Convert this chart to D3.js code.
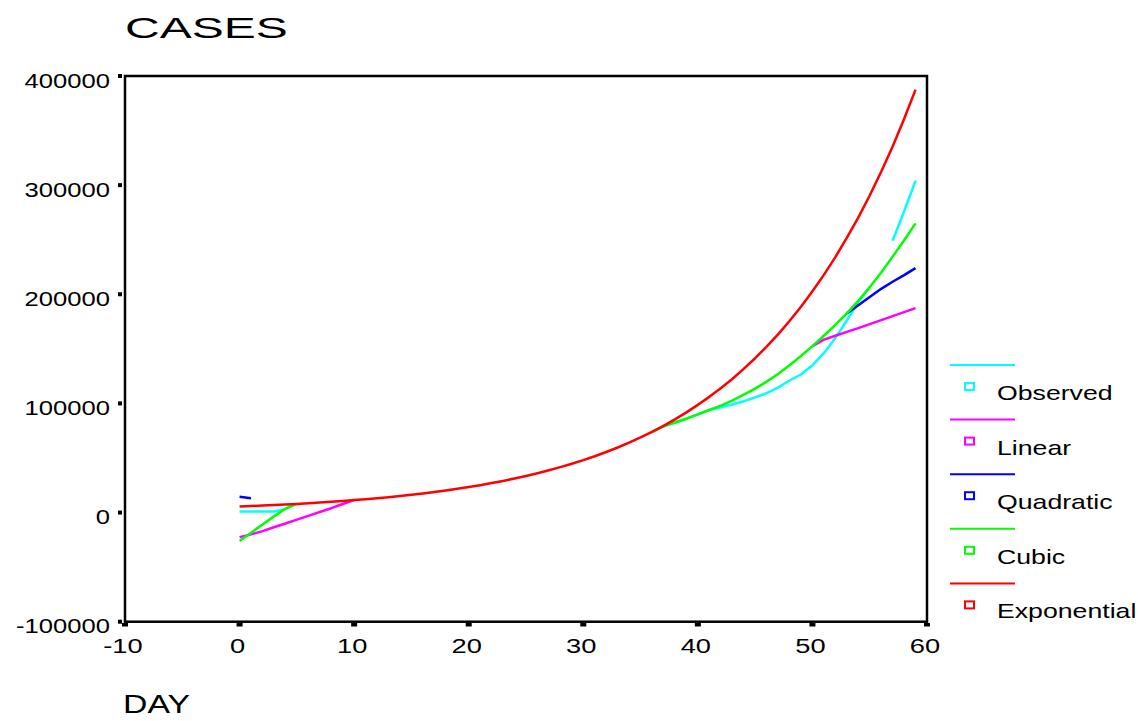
<!DOCTYPE html>
<html>
<head>
<meta charset="utf-8">
<script src="https://cdn.jsdelivr.net/npm/d3@7"></script>
<style>
  html, body { margin: 0; padding: 0; background: #ffffff; }
  svg { display: block; }
  text { font-family: "Liberation Sans", Arial, sans-serif; fill: #000; }
</style>
</head>
<body>
<svg id="chart" width="1138" height="721"></svg>
<script>
// ---------- data ----------
const days = [0,1,2,3,4,5,6,7,8,9,10,11,12,13,14,15,16,17,18,19,
              20,21,22,23,24,25,26,27,28,29,30,31,32,33,34,35,36,37,38,39,
              40,41,42,43,44,45,46,47,48,49,50,51,52,53,54,55,56,57,58,59];

const observed = [
  1000,1000,1000,1000,3000,null,null,null,null,null,
  null,null,null,null,null,null,null,null,null,null,
  null,null,null,null,null,null,null,null,null,null,
  null,null,null,null,null,null,null,79000,82500,86000,
  90000,94000,96500,99000,102000,105500,109500,114500,121000,126500,
  135000,146000,160000,176000,193000,206500,null,249000,276000,304000];

const linear = [
  -22500,-20000,-17000,-13500,-10000,-6500,-3000,500,4000,7800,
  11400,null,null,null,null,null,null,null,null,null,
  null,null,null,null,null,null,null,null,null,null,
  null,null,null,null,null,null,null,null,null,null,
  null,null,null,null,null,null,null,null,null,null,
  152500,158500,162000,165500,169000,172700,176300,180000,183600,187300];

const quadratic = [
  14500,13200,null,null,null,null,null,null,null,null,
  null,null,null,null,null,null,null,null,null,null,
  null,null,null,null,null,null,null,null,null,null,
  null,null,null,null,null,null,null,null,null,null,
  null,null,null,null,null,null,null,null,null,null,
  null,null,null,182500,190000,197500,205000,211500,217500,224000];

const cubic = [
  -26000,-18500,-11000,-3500,3500,8200,null,null,null,null,
  null,null,null,null,null,null,null,null,null,null,
  null,null,null,null,null,null,null,null,null,null,
  null,null,null,null,null,null,74000,79000,82500,86000,
  90000,94000,98000,102500,108000,113500,120000,127000,135000,143500,
  152500,162000,172000,182500,194000,206500,220000,234500,249500,265000];

const exponential = [
  5500,5950,6400,6900,7400,7900,8500,9200,9900,10600,
  11400,12200,13100,14100,15200,16300,17500,18800,20200,21800,
  23400,25100,27000,29000,31200,33500,36000,38700,41600,44700,
  48000,51600,55500,59600,64000,68800,74000,79500,85400,91800,
  98700,106000,113900,122400,131600,141400,152000,163300,175500,188600,
  202700,217800,234100,251600,270300,290500,312200,335500,360600,387500];

const seriesNames = ["Observed", "Linear", "Quadratic", "Cubic", "Exponential"];
const seriesValues = [observed, linear, quadratic, cubic, exponential];
const seriesColors = ["#00ffff", "#ff00ff", "#0000ff", "#00ff00", "#ff0000"];

const xTickValues = [-10, 0, 10, 20, 30, 40, 50, 60];
const yTickValues = [-100000, 0, 100000, 200000, 300000, 400000];

const titleText = "CASES";
const xAxisTitle = "DAY";

// ---------- layout ----------
const svg = d3.select("#chart");
const frame = { left: 125, right: 927, top: 76, bottom: 621.7 };

const x = d3.scaleLinear().domain([-10, 60]).range([frame.left, frame.right]);
const y = d3.scaleLinear().domain([-100000, 400000]).range([frame.bottom, frame.top]);

const fmt = v => String(v); // plain hyphen-minus as in the reference

function stretchedText(parent, tx, ty, str, size, sx, anchor) {
  const g = parent.append("g").attr("transform", `translate(${tx},${ty}) scale(${sx},1)`);
  g.append("text")
    .attr("x", 0).attr("y", 0)
    .attr("font-size", size)
    .attr("text-anchor", anchor || "start")
    .text(str);
  return g;
}

// title
stretchedText(svg, 125, 38, titleText, 30, 1.6, "start");

// lines
const plot = svg.append("g");
seriesValues.forEach((vals, i) => {
  const pts = days.map((d, j) => ({ d: d, v: vals[j] }));
  const line = d3.line()
    .defined(p => p.v !== null)
    .x(p => x(p.d))
    .y(p => y(p.v));
  plot.append("path")
    .datum(pts)
    .attr("fill", "none")
    .attr("stroke", seriesColors[i])
    .attr("stroke-width", 2.5)
    .attr("stroke-linejoin", "round")
    .attr("d", line);
});

// frame
svg.append("rect")
  .attr("x", frame.left).attr("y", frame.top)
  .attr("width", frame.right - frame.left)
  .attr("height", frame.bottom - frame.top)
  .attr("fill", "none")
  .attr("stroke", "#000")
  .attr("stroke-width", 2.5);

// y ticks (small squares left of axis) + labels
const yAxisG = svg.append("g");
yTickValues.forEach(v => {
  yAxisG.append("rect")
    .attr("x", frame.left - 7).attr("y", y(v) - 2)
    .attr("width", 4).attr("height", 4)
    .attr("fill", "#000");
  stretchedText(yAxisG, 110, y(v) + 11.5, fmt(v), 20, 1.28, "end");
});

// x ticks (small rects below axis) + labels
const xAxisG = svg.append("g");
xTickValues.forEach(v => {
  xAxisG.append("rect")
    .attr("x", x(v) - 3).attr("y", frame.bottom + 1.3)
    .attr("width", 6).attr("height", 3.5)
    .attr("fill", "#000");
  stretchedText(xAxisG, x(v) - 2, 652.5, fmt(v), 21, 1.3, "middle");
});

// x axis title
stretchedText(svg, 123, 713, xAxisTitle, 26, 1.3, "start");

// legend
const legend = svg.append("g");
seriesNames.forEach((name, i) => {
  const y0 = 365 + i * 54.6;
  legend.append("line")
    .attr("x1", 950).attr("x2", 1015)
    .attr("y1", y0).attr("y2", y0)
    .attr("stroke", seriesColors[i])
    .attr("stroke-width", 2);
  legend.append("rect")
    .attr("x", 965).attr("y", y0 + 18)
    .attr("width", 9).attr("height", 7)
    .attr("fill", "#fff")
    .attr("stroke", seriesColors[i])
    .attr("stroke-width", 2);
  stretchedText(legend, 997, y0 + 35, name, 21, 1.27, "start");
});
</script>
</body>
</html>
